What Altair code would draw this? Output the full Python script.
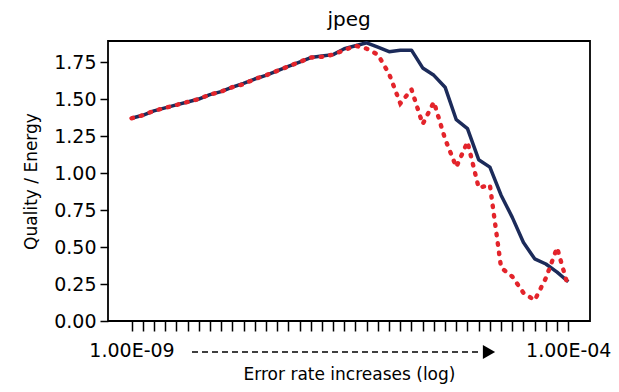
import altair as alt
import pandas as pd

# x positions: 40 sampled error rates (log spaced), index 0..39
idx = list(range(40))
tick_labels = ["1.00E-09", "1.00E-04"]
y_ticks = [0, 0.25, 0.5, 0.75, 1.0, 1.25, 1.5, 1.75]

navy_vals = [1.37, 1.39, 1.42, 1.44, 1.46, 1.48, 1.50, 1.53, 1.55, 1.58,
             1.605, 1.635, 1.66, 1.69, 1.72, 1.75, 1.78, 1.79, 1.80, 1.84,
             1.86, 1.88, 1.85, 1.82, 1.83, 1.83, 1.71, 1.66, 1.58, 1.36,
             1.30, 1.09, 1.04, 0.85, 0.70, 0.53, 0.42, 0.385, 0.33, 0.265]

red_vals = [1.37, 1.39, 1.42, 1.44, 1.46, 1.48, 1.50, 1.53, 1.55, 1.58,
            1.60, 1.635, 1.66, 1.69, 1.72, 1.75, 1.78, 1.785, 1.80, 1.83,
            1.86, 1.84, 1.80, 1.67, 1.47, 1.565, 1.33, 1.48, 1.23, 1.04,
            1.21, 0.90, 0.92, 0.36, 0.30, 0.19, 0.14, 0.29, 0.495, 0.23]

df_navy = pd.DataFrame({"i": idx, "v": navy_vals})
df_red = pd.DataFrame({"i": idx, "v": red_vals})

label_expr = (f"datum.value == 0 ? '{tick_labels[0]}' : "
              f"(datum.value == {len(idx) - 1} ? '{tick_labels[1]}' : '')")

FONT = "DejaVu Sans"

x_enc = alt.X("i:Q",
              scale=alt.Scale(domain=[-2.1, 40.94], nice=False, zero=False),
              axis=alt.Axis(values=idx, labelExpr=label_expr, grid=False,
                            domain=False, tickColor="black", tickWidth=1.5,
                            tickSize=10, labelFontSize=19, labelColor="black",
                            labelFont=FONT, labelPadding=10, labelFlush=False,
                            labelOverlap=False, labelBound=False,
                            title="Error rate increases (log)",
                            titleFont=FONT, titleFontSize=17,
                            titleFontWeight="normal", titleColor="black",
                            titlePadding=6))
y_enc = alt.Y("v:Q",
              scale=alt.Scale(domain=[0, 1.892], nice=False),
              axis=alt.Axis(values=y_ticks,
                            format=".2f", grid=False, domain=False,
                            tickColor="black", tickWidth=1.5, tickSize=8,
                            labelFontSize=19, labelColor="black", labelFont=FONT,
                            labelPadding=4, title="Quality / Energy",
                            titleFont=FONT, titleFontSize=17,
                            titleFontWeight="normal", titleColor="black",
                            titlePadding=13))

navy = alt.Chart(df_navy).mark_line(color="#1c2b5a", strokeWidth=3.5,
                                    strokeJoin="round").encode(x=x_enc, y=y_enc)
red = alt.Chart(df_red).mark_line(color="#e3242b", strokeWidth=4.4,
                                  strokeDash=[1.5, 8], strokeCap="round").encode(
    x=x_enc, y=y_enc)

arrow_line = alt.Chart(pd.DataFrame({"a": [0]})).mark_rule(
    color="black", strokeWidth=1.3, strokeDash=[6, 4]).encode(
    x=alt.value(84), x2=alt.value(374), y=alt.value(311))
arrow_head = alt.Chart(pd.DataFrame({"a": [0]})).mark_point(
    shape="triangle-right", filled=True, color="black", size=200, opacity=1).encode(
    x=alt.value(381), y=alt.value(311))

chart = alt.layer(navy, red, arrow_line, arrow_head).properties(
    width=482, height=280,
    background="white",
    title=alt.TitleParams("jpeg", font=FONT, fontSize=20, fontWeight="normal",
                          color="black", offset=7),
    autosize=alt.AutoSizeParams(type="none"),
    padding={"left": 100, "top": 33, "right": 21, "bottom": 63},
).configure_view(stroke="black", strokeWidth=1.8)

chart.save("out.html", embed_options={"renderer": "svg", "actions": False})
